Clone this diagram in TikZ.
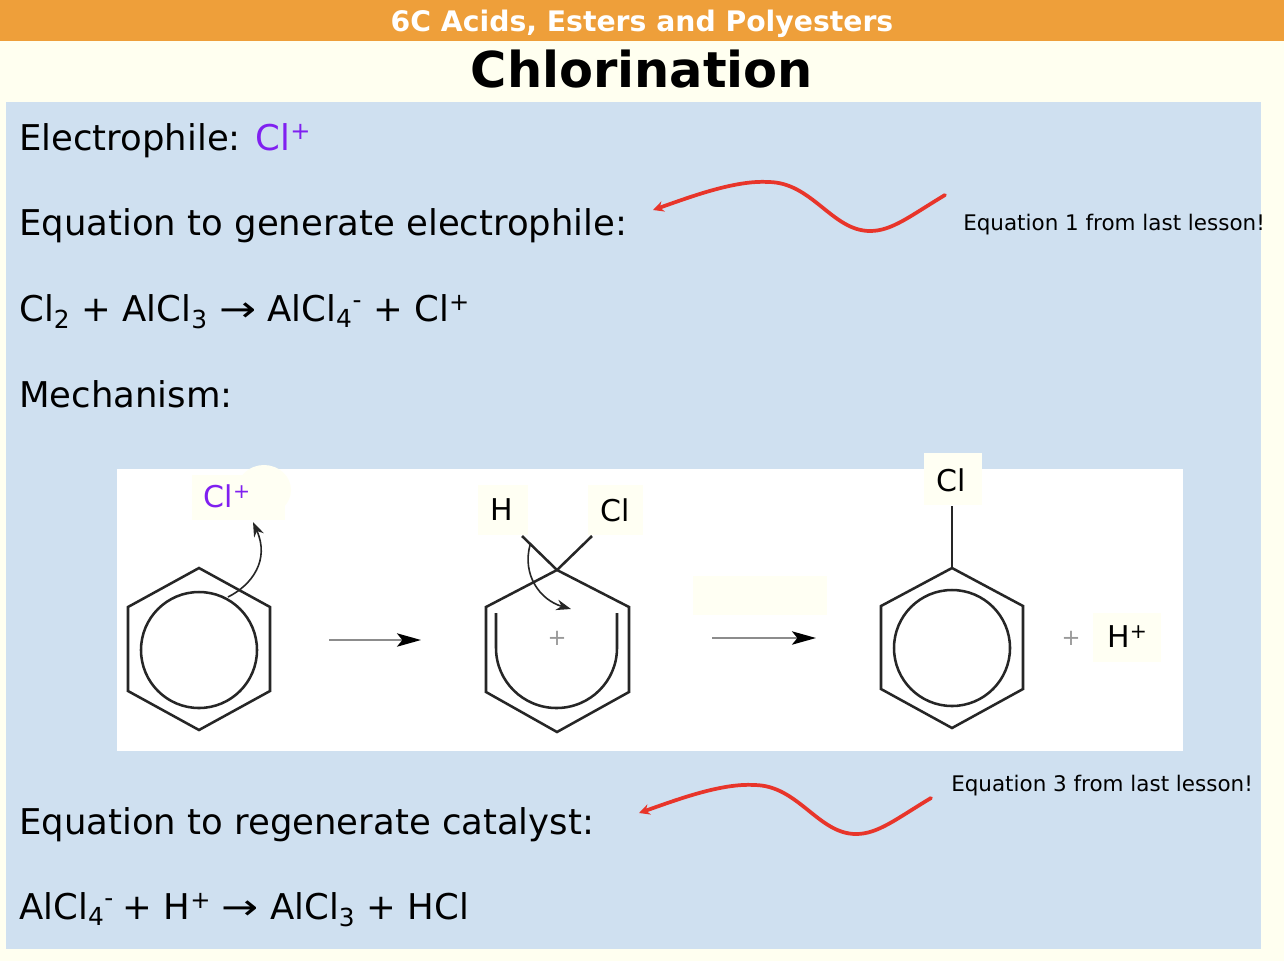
\documentclass[tikz,border=0pt]{standalone}
\usepackage{fontspec}
\setmainfont{DejaVu Sans}
\usetikzlibrary{arrows.meta}
\definecolor{pagebg}{HTML}{FFFFF0}
\definecolor{barorange}{HTML}{EE9F3A}
\definecolor{panelblue}{HTML}{CFE0F0}
\definecolor{elecpurple}{HTML}{8020F0}
\definecolor{wavered}{HTML}{E8352A}
\definecolor{labelbg}{HTML}{FFFFF3}
\newcommand\chemup[1]{\raisebox{.3em}{\scalebox{.68}{#1}}}
\newcommand\chemto{\scalebox{1.25}[1]{→}}
\tikzset{
  line/.style={anchor=base west,inner sep=0pt,font=\fontsize{26.6}{30}\selectfont},
  note/.style={anchor=base west,inner sep=0pt,font=\fontsize{16.1}{19}\selectfont},
  atom/.style={inner sep=0pt,font=\fontsize{22.5}{26}\selectfont},
  bond/.style={line width=1.9pt,black!85},
  yield/.style={line width=1.5pt,black!45,-{Stealth[black,length=18pt,width=10pt,inset=4pt]}},
  curly/.style={line width=1.2pt,black!85,-{Stealth[length=11pt,width=8pt]}},
  wave/.style={line width=2.8pt,wavered,line cap=round,-{Stealth[length=8pt,width=8pt]}}
}
\begin{document}
\begin{tikzpicture}[x=0.75pt,y=-0.75pt]
\useasboundingbox (0,0) rectangle (1284,961);
\fill[pagebg] (0,0) rectangle (1284,961);
\fill[barorange] (0,0) rectangle (1284,41);
\fill[panelblue] (6,102) rectangle (1261,949);
\fill[white] (117,469) rectangle (1183,751);
% pale patches behind the labels
\fill[labelbg] (192,475) rectangle (285,520);
\fill[labelbg] (264,490) ellipse (27 and 25);
\fill[labelbg] (478,485) rectangle (528,535);
\fill[labelbg] (588,485) rectangle (643,535);
\fill[labelbg] (924,453) rectangle (982,505);
\fill[labelbg] (693,576) rectangle (827,615);
\fill[labelbg] (1093,613) rectangle (1161,662);

\node[text=white,font=\fontsize{21.2}{24}\bfseries] (header) at (642,24) {6C Acids, Esters and Polyesters};
\node[font=\fontsize{37.1}{42}\bfseries] (title) at (642,69) {Chlorination};

\node[line] (electrophile) at (19,150) {Electrophile: \textcolor{elecpurple}{Cl\chemup{+}}};
\node[line] (generate) at (19,235) {Equation to generate electrophile:};
\node[line] (eqngen) at (19,321) {Cl\textsubscript{2} + AlCl\textsubscript{3} \chemto{} AlCl\textsubscript{4}\textsuperscript{-} + Cl\chemup{+}};
\node[line] (mechanism) at (19,407) {Mechanism:};
\node[line] (regenerate) at (19,834) {Equation to regenerate catalyst:};
\node[line] (eqnregen) at (19,919) {AlCl\textsubscript{4}\textsuperscript{-}\hspace{-2pt} + H\chemup{+} \chemto{} AlCl\textsubscript{3} + HCl};
\node[note] (lastone) at (963,230) {Equation 1 from last lesson!};
\node[note] (lastthree) at (951,791) {Equation 3 from last lesson!};

% the red waves
\coordinate (waveAstart) at (945,195);
\coordinate (waveAtip) at (653,210);
\coordinate (waveBstart) at (931,798);
\coordinate (waveBtip) at (639,813);
\draw[wave] (waveAstart) .. controls (910,216) and (892,231) .. (870,231)
  .. controls (832,231) and (812,182) .. (768,182)
  .. controls (735,180) and (690,197) .. (waveAtip);
\draw[wave] (waveBstart) .. controls (896,819) and (878,834) .. (856,834)
  .. controls (818,834) and (798,785) .. (754,785)
  .. controls (721,783) and (676,800) .. (waveBtip);

% first ring
\draw[bond] (199,568) -- (270,607) -- (270,691) -- (199,730) -- (128,691) -- (128,607) -- cycle;
\draw[bond] (199,650) circle (58);
\node[atom,text=elecpurple] (clplus) at (227,496) {Cl\chemup{+}};
\coordinate (curlyAstart) at (228,597);
\coordinate (curlyAtip) at (253,522);
\draw[curly] (curlyAstart) .. controls (252,585) and (270,560) .. (curlyAtip);

\coordinate (yieldAstart) at (329,640);
\coordinate (yieldAend) at (421,640);
\draw[yield] (yieldAstart) -- (yieldAend);

% second ring
\coordinate (apexB) at (557,570);
\draw[bond] (apexB) -- (629,607) -- (629,692) -- (557,732) -- (486,692) -- (486,607) -- cycle;
\draw[bond] (496,613) -- (496,648) arc (180:0:60.5 and 60) -- (617,613);
\node[atom] (hatom) at (502,510) {H};
\node[atom] (clatom) at (615,510) {Cl};
\path (hatom) ++(20,26) coordinate (hbondend);
\path (clatom) ++(-23,26) coordinate (clbondend);
\draw[bond] (hbondend) -- (apexB);
\draw[bond] (clbondend) -- (apexB);
\coordinate (curlyBstart) at (530,545);
\coordinate (curlyBtip) at (571,609);
\draw[curly] (curlyBstart) .. controls (522,575) and (540,600) .. (curlyBtip);
\node[text=black!40,font=\fontsize{17}{20}\selectfont,inner sep=0pt] (charge) at (557,638) {+};

\coordinate (yieldBstart) at (712,638);
\coordinate (yieldBend) at (816,638);
\draw[yield] (yieldBstart) -- (yieldBend);

% product ring
\coordinate (apexC) at (952,568);
\draw[bond] (apexC) -- (1023,606) -- (1023,689) -- (952,728) -- (881,689) -- (881,606) -- cycle;
\draw[bond] (952,648) circle (58);
\node[atom] (clproduct) at (951,480) {Cl};
\path (clproduct) ++(1,26) coordinate (clproductend);
\draw[bond] (clproductend) -- (apexC);
\node[text=black!40,font=\fontsize{17}{20}\selectfont,inner sep=0pt] (plus) at (1071,638) {+};
\node[atom] (hplus) at (1127,637) {H\chemup{+}};
\end{tikzpicture}
\end{document}
